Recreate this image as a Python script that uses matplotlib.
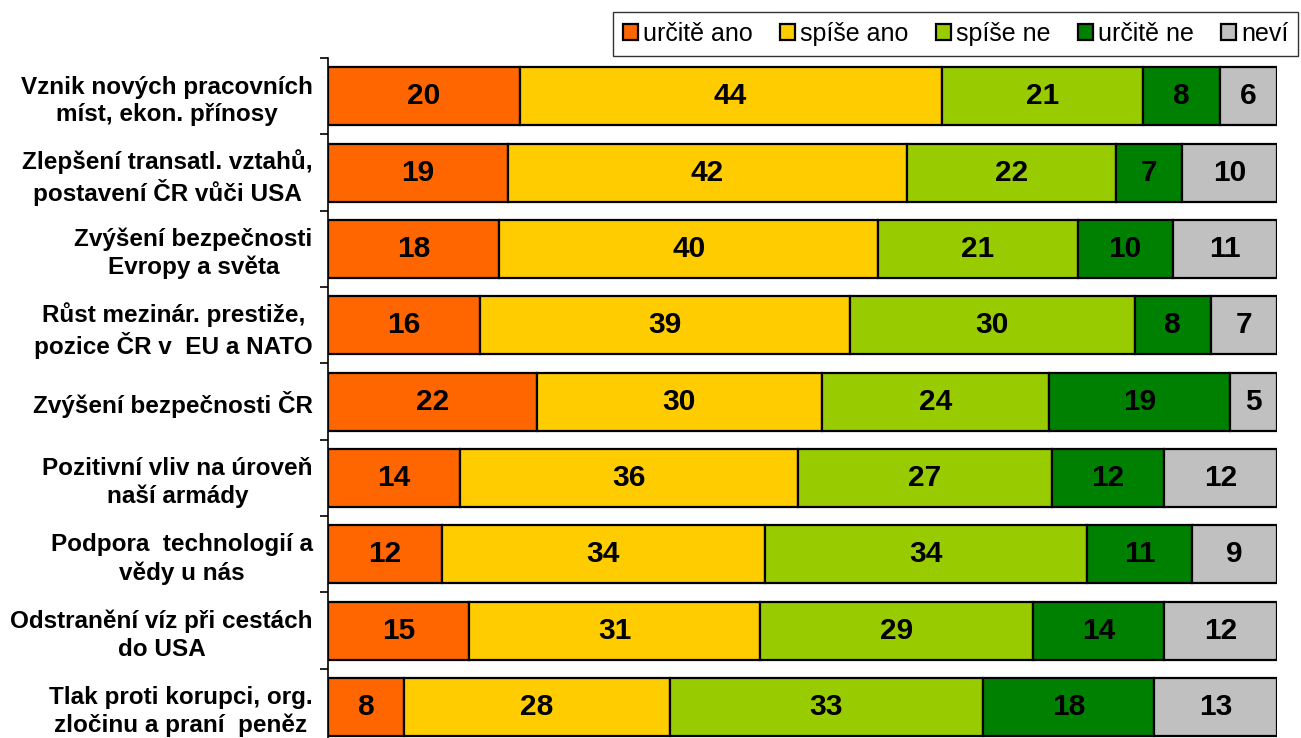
import numpy as np
import matplotlib.pyplot as plt

kategorie = [
    "Vznik nových pracovních\nmíst, ekon. přínosy",
    "Zlepšení transatl. vztahů,\npostavení ČR vůči USA",
    "Zvýšení bezpečnosti\nEvropy a světa",
    "Růst mezinár. prestiže,\npozice ČR v  EU a NATO",
    "Zvýšení bezpečnosti ČR",
    "Pozitivní vliv na úroveň\nnaší armády",
    "Podpora  technologií a\nvědy u nás",
    "Odstranění víz při cestách\ndo USA",
    "Tlak proti korupci, org.\nzločinu a praní  peněz",
]
odpovedi = ["určitě ano", "spíše ano", "spíše ne", "určitě ne", "neví"]
urcite_ano = [20, 19, 18, 16, 22, 14, 12, 15, 8]
spise_ano = [44, 42, 40, 39, 30, 36, 34, 31, 28]
spise_ne = [21, 22, 21, 30, 24, 27, 34, 29, 33]
urcite_ne = [8, 7, 10, 8, 19, 12, 11, 14, 18]
nevi = [6, 10, 11, 7, 5, 12, 9, 12, 13]
barvy = ["#FF6600", "#FFCC00", "#99CC00", "#008000", "#C0C0C0"]

data = np.array([urcite_ano, spise_ano, spise_ne, urcite_ne, nevi], dtype=float)
podily = data / data.sum(axis=0) * 100

plt.rcParams['font.family'] = ['Liberation Sans', 'DejaVu Sans']

fig = plt.figure(figsize=(13.01, 7.38), dpi=100)
ax = fig.add_axes([0.2521, -0.0095, 0.7295, 0.9309])

y = np.arange(len(kategorie))
zleva = np.zeros(len(kategorie))
for i in range(len(odpovedi)):
    ax.barh(y, podily[i], left=zleva, height=0.76, color=barvy[i],
            edgecolor="black", linewidth=1.6, label=odpovedi[i])
    for j in range(len(kategorie)):
        ax.text(zleva[j] + podily[i][j] / 2, y[j], str(int(data[i][j])),
                ha="center", va="center", fontsize=21.5, fontweight="bold")
    zleva = zleva + podily[i]

ax.set_xlim(0, 100)
ax.set_ylim(len(kategorie) - 0.5, -0.5)
ax.set_yticks(y)
ax.set_yticklabels(kategorie, fontsize=17.5, fontweight="bold", ha="right",
                   multialignment="center", linespacing=1.25)
ax.tick_params(axis="y", which="major", length=0, pad=11)
ax.set_yticks(np.arange(-0.5, len(kategorie), 1), minor=True)
ax.tick_params(axis="y", which="minor", length=6, width=1.2, direction="out")
ax.set_xticks([])
for s in ["top", "right", "bottom"]:
    ax.spines[s].set_visible(False)
ax.spines["left"].set_linewidth(1.2)

leg = fig.legend(loc="upper right", bbox_to_anchor=(0.998, 0.984), ncol=5,
                 fontsize=18, frameon=True, fancybox=False, edgecolor="black",
                 handlelength=0.6, handleheight=0.6, handletextpad=0.2,
                 columnspacing=1.1, borderpad=0.4, borderaxespad=0)
leg.get_frame().set_linewidth(1.0)

fig.savefig("out.png", dpi=100)
